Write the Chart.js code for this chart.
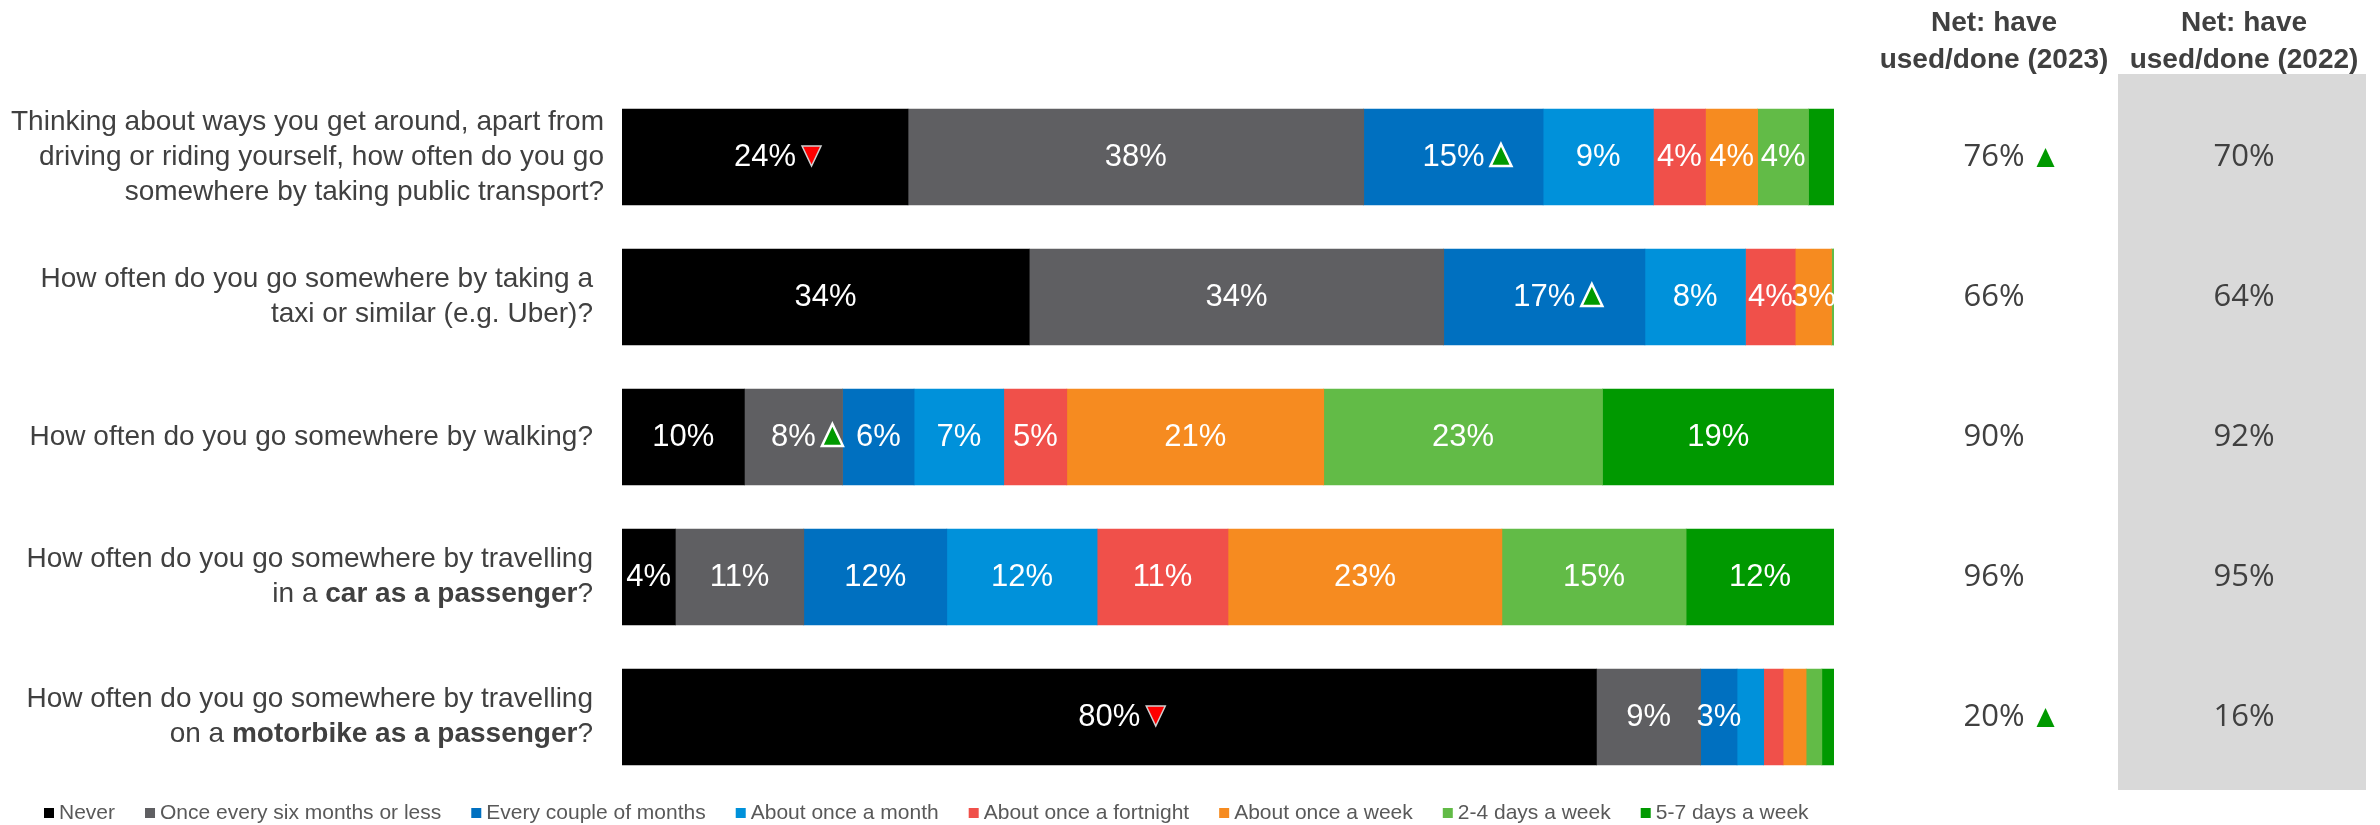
<!DOCTYPE html>
<html>
<head>
<meta charset="utf-8">
<script src="https://cdn.jsdelivr.net/npm/chart.js@4.4.1/dist/chart.umd.min.js"></script>
<style>
html,body{margin:0;padding:0;background:#fff;}
#wrap{width:2380px;height:825px;position:relative;}
</style>
</head>
<body>
<div id="wrap"><canvas id="c" width="2380" height="825"></canvas></div>
<script>
// ---------- DATA ----------
const questionLines = [
  ["Thinking about ways you get around, apart from", "driving or riding yourself, how often do you go", "somewhere by taking public transport?"],
  ["How often do you go somewhere by taking a", "taxi or similar (e.g. Uber)?"],
  ["How often do you go somewhere by walking?"],
  ["How often do you go somewhere by travelling", "in a **car as a passenger**?"],
  ["How often do you go somewhere by travelling", "on a **motorbike as a passenger**?"]
];
const seriesNames = ["Never", "Once every six months or less", "Every couple of months", "About once a month",
  "About once a fortnight", "About once a week", "2-4 days a week", "5-7 days a week"];
const seriesColors = ["#000000", "#5F5F62", "#0070C0", "#0091DA", "#F0504A", "#F68B20", "#62BB47", "#009900"];

const never        = [23.6, 33.6, 10.1,  4.4, 80.4];
const sixMonths    = [37.6, 34.2,  8.1, 10.6,  8.6];
const coupleMonths = [14.8, 16.6,  5.9, 11.8,  3.0];
const onceMonth    = [ 9.1,  8.3,  7.4, 12.4,  2.2];
const fortnight    = [ 4.3,  4.1,  5.2, 10.8,  1.6];
const onceWeek     = [ 4.3,  3.0, 21.2, 22.6,  1.9];
const days24       = [ 4.2,  0.2, 23.0, 15.2,  1.3];
const days57       = [ 2.1,  0.0, 19.1, 12.2,  1.0];
const seriesValues = [never, sixMonths, coupleMonths, onceMonth, fortnight, onceWeek, days24, days57];

// significance markers inside bars: [seriesIndex, questionIndex, direction]
const barSig = [[0, 0, "down"], [2, 0, "up"], [2, 1, "up"], [1, 2, "up"], [0, 4, "down"]];

const netHeaders = [["Net: have", "used/done (2023)"], ["Net: have", "used/done (2022)"]];
const net2023 = [76, 66, 90, 96, 20];
const net2023Sig = ["up", "", "", "", "up"];
const net2022 = [70, 64, 92, 95, 16];

// ---------- DRAW HELPERS ----------
const SANS = '"Liberation Sans", Arial, sans-serif';
const labelRight = [604, 593, 593, 593, 593];
function tri(ctx, x, top, w, h, dir, fill, stroke, lw) {
  ctx.beginPath();
  if (dir === "up") {
    ctx.moveTo(x + w / 2, top); ctx.lineTo(x + w, top + h); ctx.lineTo(x, top + h);
  } else {
    ctx.moveTo(x, top); ctx.lineTo(x + w, top); ctx.lineTo(x + w / 2, top + h);
  }
  ctx.closePath();
  ctx.fillStyle = fill; ctx.fill();
  if (stroke) { ctx.lineWidth = lw; ctx.strokeStyle = stroke; ctx.stroke(); }
}
function drawRich(ctx, line, right, y, size, color) {
  const parts = line.split("**");
  let total = 0;
  const widths = parts.map((p, k) => {
    ctx.font = (k % 2 ? "bold " : "") + size + "px " + SANS;
    const w = ctx.measureText(p).width; total += w; return w;
  });
  let x = right - total;
  ctx.fillStyle = color; ctx.textAlign = "left"; ctx.textBaseline = "middle";
  parts.forEach((p, k) => {
    ctx.font = (k % 2 ? "bold " : "") + size + "px " + SANS;
    ctx.fillText(p, x, y); x += widths[k];
  });
}

const customPlugin = {
  id: "custom",
  beforeDraw(chart) {
    const ctx = chart.ctx;
    ctx.save();
    ctx.fillStyle = "#ffffff"; ctx.fillRect(0, 0, chart.width, chart.height);
    ctx.fillStyle = "#D9D9D9"; ctx.fillRect(2118, 74, 248, 716);
    ctx.restore();
  },
  afterDatasetsDraw(chart) {
    const ctx = chart.ctx;
    ctx.save();
    ctx.textAlign = "center"; ctx.textBaseline = "middle";
    chart.data.datasets.forEach((ds, di) => {
      const meta = chart.getDatasetMeta(di);
      meta.data.forEach((el, i) => {
        const v = ds.data[i];
        if (v < 2.5) return;
        const cx = (el.x + el.base) / 2, cy = el.y;
        const txt = Math.round(v) + "%";
        ctx.font = "31px " + SANS;
        ctx.fillStyle = "#ffffff"; ctx.textAlign = "center";
        ctx.fillText(txt, cx, cy);
        const s = barSig.find(b => b[0] === di && b[1] === i);
        if (s) {
          const w = ctx.measureText(txt).width;
          const tx = cx + w / 2 + 6;
          if (s[2] === "up") tri(ctx, tx, cy - 13, 21, 22, "up", "#009900", "#ffffff", 2.5);
          else tri(ctx, tx, cy - 11, 19, 20, "down", "#FF0000", "#D0D0D0", 1.5);
        }
      });
    });
    ctx.restore();
  },
  afterDraw(chart) {
    const ctx = chart.ctx;
    const yS = chart.scales.y;
    ctx.save();
    // question labels
    questionLines.forEach((lines, i) => {
      const cy = yS.getPixelForValue(i);
      const lh = 35;
      lines.forEach((ln, k) => {
        const y = cy + (k - (lines.length - 1) / 2) * lh;
        drawRich(ctx, ln, labelRight[i], y, 28, "#404040");
      });
    });
    // headers
    const colX = [1994, 2244];
    ctx.fillStyle = "#404040"; ctx.textAlign = "center"; ctx.textBaseline = "alphabetic";
    ctx.font = "bold 28px " + SANS;
    netHeaders.forEach((h, c) => {
      ctx.fillText(h[0], colX[c], 31);
      ctx.fillText(h[1], colX[c], 68);
    });
    // net values
    ctx.font = '31px "Open Sans", ' + SANS;
    ctx.textBaseline = "middle";
    net2023.forEach((v, i) => {
      const cy = yS.getPixelForValue(i);
      const txt = v + "%";
      ctx.fillStyle = "#404040"; ctx.textAlign = "center";
      ctx.fillText(txt, colX[0], cy);
      if (net2023Sig[i] === "up") {
        const w = ctx.measureText(txt).width;
        tri(ctx, colX[0] + w / 2 + 12, cy - 9, 18, 19, "up", "#009900", null, 0);
      }
    });
    net2022.forEach((v, i) => {
      const cy = yS.getPixelForValue(i);
      ctx.fillStyle = "#404040"; ctx.textAlign = "center";
      ctx.fillText(v + "%", colX[1], cy);
    });
    // legend
    ctx.font = "21px " + SANS;
    ctx.textAlign = "left"; ctx.textBaseline = "middle";
    let x = 44; const ly = 813;
    seriesNames.forEach((n, k) => {
      ctx.fillStyle = seriesColors[k];
      ctx.fillRect(x, ly - 5, 10, 10);
      x += 15;
      ctx.fillStyle = "#595959";
      ctx.fillText(n, x, ly);
      x += ctx.measureText(n).width + 30;
    });
    ctx.restore();
  }
};

const chart = new Chart(document.getElementById("c"), {
  type: "bar",
  data: {
    labels: questionLines,
    datasets: seriesNames.map((n, k) => ({
      label: n,
      data: seriesValues[k],
      backgroundColor: seriesColors[k],
      borderWidth: 0,
      barThickness: 96
    }))
  },
  options: {
    indexAxis: "y",
    responsive: false,
    animation: false,
    layout: { padding: { left: 45, right: 546, top: 87, bottom: 38 } },
    plugins: { legend: { display: false }, tooltip: { enabled: false } },
    scales: {
      x: { stacked: true, min: 0, max: 100, display: false },
      y: {
        stacked: true,
        grid: { display: false },
        border: { display: false },
        ticks: { display: false },
        afterFit(scale) { scale.width = 577; }
      }
    }
  },
  plugins: [customPlugin]
});
</script>
</body>
</html>
